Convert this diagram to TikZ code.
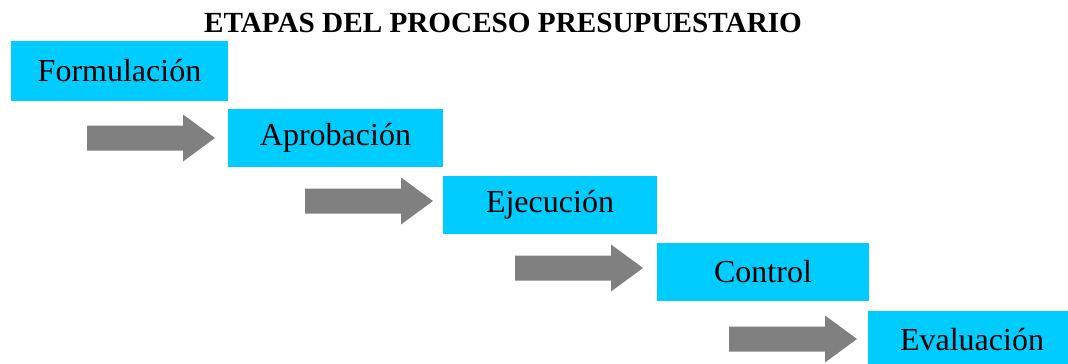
\documentclass[tikz,border=0pt]{standalone}
\usepackage{fontspec}
\setmainfont{Liberation Serif}
\definecolor{boxcyan}{HTML}{00CCFF}
\definecolor{arrowgray}{HTML}{808080}
\begin{document}
\begin{tikzpicture}[x=1pt,y=-1pt,
  stagebox/.style={fill=boxcyan, draw=none, inner sep=0pt, font=\fontsize{32}{38}\selectfont, text=black},
  stagearrow/.pic={\fill[arrowgray] (0,-12.5) -- (96,-12.5) -- (96,-23.5) -- (128,0) -- (96,23.5) -- (96,12.5) -- (0,12.5) -- cycle;}]
\useasboundingbox (0,0) rectangle (1068,364);
\node[font=\fontsize{29.2}{35}\selectfont\bfseries] (title) at (503,23) {ETAPAS DEL PROCESO PRESUPUESTARIO};
\node[stagebox, minimum width=217pt, minimum height=60pt] (f) at (119.5,71) {Formulación};
\node[stagebox, minimum width=215pt, minimum height=58pt] (a) at (335.5,138) {Aprobación};
\node[stagebox, minimum width=214pt, minimum height=58pt] (e) at (550,204.5) {Ejecución};
\node[stagebox, minimum width=212pt, minimum height=58pt] (c) at (763,272) {Control};
\fill[boxcyan] (868,311) rectangle (1068,364);
\node[font=\fontsize{32}{38}\selectfont] (v) at (972,340) {Evaluación};
\pic at (87,138) {stagearrow};
\pic at (305,201) {stagearrow};
\pic at (515,268) {stagearrow};
\pic at (729,339) {stagearrow};
\end{tikzpicture}
\end{document}
